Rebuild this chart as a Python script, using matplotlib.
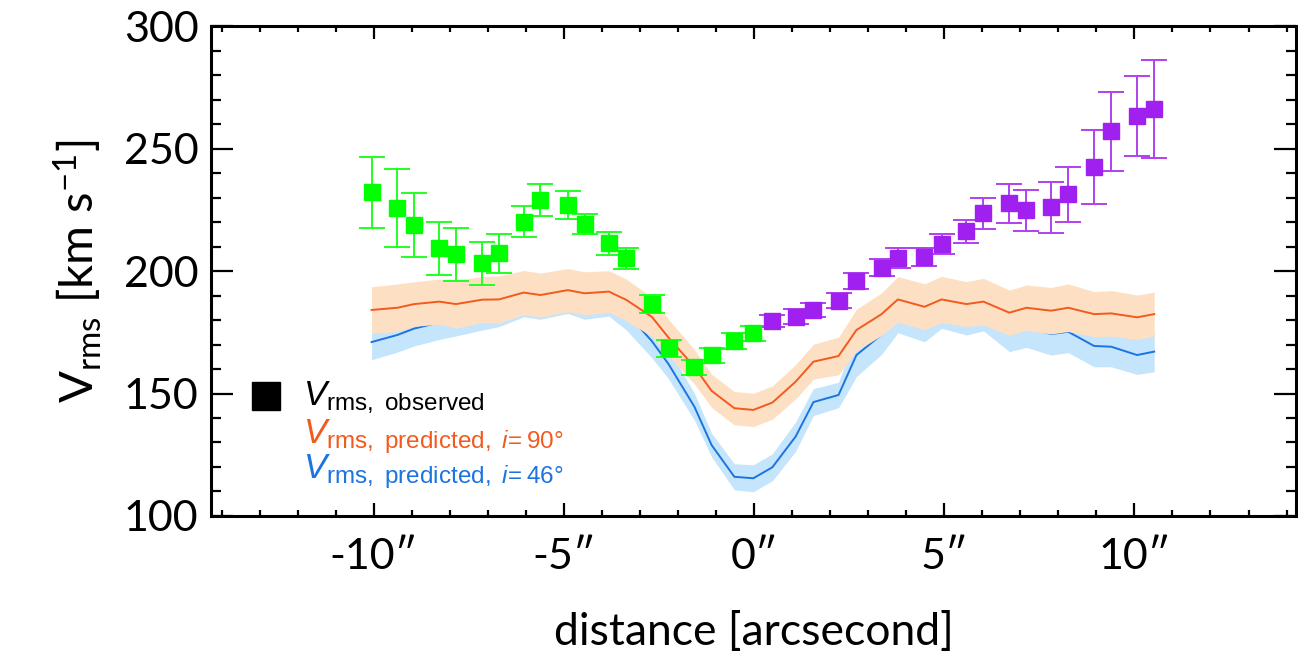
import numpy as np
import matplotlib
matplotlib.use("Agg")
import matplotlib.pyplot as plt
from matplotlib.ticker import MultipleLocator, FixedLocator, FixedFormatter

plt.rcParams['font.family'] = ['Lato', 'DejaVu Sans']
plt.rcParams['mathtext.fontset'] = 'custom'
plt.rcParams['mathtext.rm'] = 'Liberation Sans'
plt.rcParams['mathtext.it'] = 'Liberation Sans:italic'
plt.rcParams['mathtext.sf'] = 'Lato'

# observed Vrms, approaching side (green) and receding side (purple)
x_green = [-10.06, -9.38, -8.94, -8.28, -7.84, -7.15, -6.71, -6.06, -5.62, -4.90,
           -4.46, -3.82, -3.36, -2.69, -2.25, -1.57, -1.12, -0.52, -0.02]
v_green = [232.1, 225.6, 218.7, 209.3, 206.8, 203.1, 207.2, 220.2, 229.0, 227.0,
           219.2, 211.3, 205.2, 186.5, 168.4, 160.7, 165.6, 171.4, 174.6]
e_green = [14.5, 15.9, 13.0, 10.8, 10.9, 8.8, 8.0, 6.5, 6.5, 5.7,
           4.2, 4.6, 4.3, 3.7, 3.3, 3.1, 3.0, 3.1, 3.0]

x_purple = [0.48, 1.09, 1.56, 2.22, 2.69, 3.35, 3.78, 4.48, 4.93, 5.58,
            6.03, 6.71, 7.16, 7.81, 8.26, 8.94, 9.39, 10.07, 10.52]
v_purple = [179.7, 181.3, 184.1, 187.8, 196.0, 201.3, 205.2, 205.8, 211.0, 216.3,
            223.5, 227.6, 224.8, 226.0, 231.3, 242.3, 257.0, 263.1, 266.0]
e_purple = [2.5, 3.0, 3.0, 3.1, 3.3, 3.5, 4.0, 3.7, 4.2, 4.7,
            6.4, 8.0, 8.4, 10.3, 11.2, 15.1, 16.0, 16.3, 20.0]

# predicted Vrms (models share the data positions)
x_model = x_green + x_purple
v_pred90 = [184.1, 185.0, 186.5, 187.5, 186.5, 188.3, 188.4, 191.2, 190.2, 192.2,
            190.9, 191.6, 188.2, 181.3, 172.8, 160.9, 151.1, 144.0, 143.3,
            146.3, 154.8, 163.0, 165.3, 175.9, 182.4, 188.4, 185.4, 188.4, 186.5,
            187.5, 183.0, 185.0, 183.8, 185.0, 182.4, 182.7, 181.1, 182.4]
e_pred90 = [9.5, 9.7, 9.1, 9.2, 9.8, 9.4, 9.6, 9.0, 9.0, 8.8,
            8.8, 8.5, 8.5, 8.0, 7.5, 7.0, 6.8, 6.8, 6.8,
            6.8, 7.0, 7.1, 7.7, 8.5, 8.7, 9.3, 9.4, 9.4, 9.2,
            9.5, 9.2, 9.3, 9.5, 9.7, 9.2, 9.3, 9.1, 9.0]
v_pred46 = [171.0, 173.9, 176.5, 179.0, 180.5, 183.0, 184.3, 188.3, 187.3, 189.7,
            187.3, 188.6, 183.0, 171.4, 162.0, 144.6, 129.0, 116.0, 115.4,
            119.9, 132.4, 146.5, 149.4, 165.7, 174.0, 182.5, 179.0, 184.5, 182.0,
            183.5, 175.0, 177.0, 174.3, 175.2, 169.4, 169.1, 165.7, 167.1]
e_pred46 = [7.2, 7.0, 7.1, 6.9, 7.0, 7.1, 7.0, 7.0, 7.0, 7.0,
            7.0, 7.0, 7.1, 6.8, 6.0, 5.5, 4.8, 5.3, 5.5,
            5.5, 6.0, 5.5, 5.2, 8.8, 8.0, 7.7, 7.9, 7.9, 8.1,
            7.9, 7.9, 8.2, 8.6, 8.5, 8.5, 8.2, 7.9, 8.2]

xticks = [-10, -5, 0, 5, 10]
xtick_labels = ['-10″', '-5″', '0″', '5″', '10″']

orange = '#f25a1e'
orange_fill = '#fde0c4'
blue = '#1c74e0'
blue_fill = '#c4e5fb'

fig = plt.figure(figsize=(12.98, 6.64), dpi=100)
ax = fig.add_axes([0.1626, 0.2229, 0.9985 - 0.1626, 0.9608 - 0.2229])

xm = np.array(x_model)
v90 = np.array(v_pred90)
v46 = np.array(v_pred46)
ax.fill_between(xm, v46 - np.array(e_pred46), v46 + np.array(e_pred46),
                color=blue_fill, lw=0, zorder=1)
ax.plot(xm, v46, color=blue, lw=1.4, zorder=2)
ax.fill_between(xm, v90 - np.array(e_pred90), v90 + np.array(e_pred90),
                color=orange_fill, lw=0, zorder=3)
ax.plot(xm, v90, color=orange, lw=1.4, zorder=4)

ax.errorbar(x_green, v_green, yerr=e_green, fmt='s', ms=12, color='#00ff00',
            ecolor='#22ff22', elinewidth=1.4, capsize=9.5, capthick=1.4, zorder=5)
ax.errorbar(x_purple, v_purple, yerr=e_purple, fmt='s', ms=12, color='#a020f0',
            ecolor='#b040f0', elinewidth=1.4, capsize=9.5, capthick=1.4, zorder=5)

ax.set_xlim(-14.28, 14.25)
ax.set_ylim(100, 300)
ax.xaxis.set_major_locator(FixedLocator(xticks))
ax.xaxis.set_major_formatter(FixedFormatter(xtick_labels))
ax.xaxis.set_minor_locator(MultipleLocator(1))
ax.yaxis.set_major_locator(MultipleLocator(50))
ax.yaxis.set_minor_locator(MultipleLocator(10))

for s in ax.spines.values():
    s.set_linewidth(2.2)
ax.tick_params(axis='both', which='both', direction='in', top=True, right=True,
               width=1.6, labelsize=31)
ax.tick_params(axis='y', which='major', length=15.8, pad=9)
ax.tick_params(axis='y', which='minor', length=7.5)
ax.tick_params(axis='x', which='major', length=9.5, pad=16)
ax.tick_params(axis='x', which='minor', length=4.5)

ax.set_xlabel('distance [arcsecond]', fontsize=32, labelpad=26)
ax.set_ylabel(r'$\mathsf{V_{rms}\ [km\ s^{-1}]}$', fontsize=34, labelpad=14)

# legend drawn by hand
ax.plot([0.0506], [0.245], 's', ms=19.5, color='black', transform=ax.transAxes,
        clip_on=False, zorder=6)
ax.text(0.0847, 0.2265, r'$V_{\rm rms,\ observed}$', transform=ax.transAxes,
        fontsize=25, color='black', va='baseline', ha='left')
ax.text(0.0847, 0.149, r'$V_{\rm rms,\ predicted,\ {\it i}\!{=}90°}$', transform=ax.transAxes,
        fontsize=25, color=orange, va='baseline', ha='left')
ax.text(0.0847, 0.077, r'$V_{\rm rms,\ predicted,\ {\it i}\!{=}46°}$', transform=ax.transAxes,
        fontsize=25, color=blue, va='baseline', ha='left')

fig.savefig('out.png', dpi=100)
